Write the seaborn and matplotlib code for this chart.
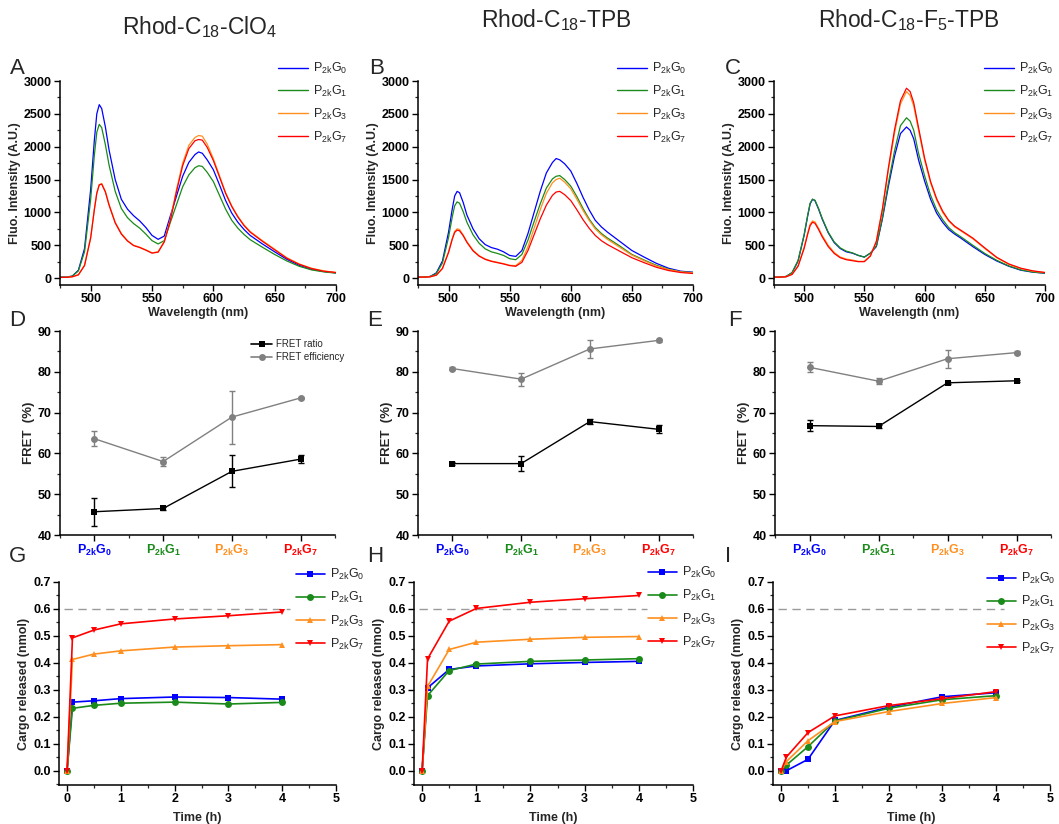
import matplotlib
matplotlib.use('Agg')
import numpy as np
import pandas as pd
import seaborn as sns
import matplotlib.pyplot as plt
from matplotlib.ticker import MultipleLocator
from matplotlib.lines import Line2D
from matplotlib import font_manager

# ---------------- data ----------------
samples = ['P$_{\\mathrm{2k}}$G$_{0}$', 'P$_{\\mathrm{2k}}$G$_{1}$',
           'P$_{\\mathrm{2k}}$G$_{3}$', 'P$_{\\mathrm{2k}}$G$_{7}$']
bold_samples = ['$\\mathbf{P_{2k}G_{0}}$', '$\\mathbf{P_{2k}G_{1}}$',
                '$\\mathbf{P_{2k}G_{3}}$', '$\\mathbf{P_{2k}G_{7}}$']
colors = ['#0000ff', '#1a8a1a', '#ff9020', '#ff0000']
titles = ['Rhod-C$_{18}$-ClO$_{4}$', 'Rhod-C$_{18}$-TPB', 'Rhod-C$_{18}$-F$_{5}$-TPB']

wavelength = [475, 480, 485, 490, 495, 500, 503, 505, 507, 509, 512, 515, 520, 525, 530,
              535, 540, 545, 550, 555, 560, 565, 570, 575, 580, 585, 588, 591, 595, 600,
              605, 610, 615, 620, 625, 630, 640, 650, 660, 670, 680, 690, 700]

A_G0 = [15, 15, 30, 120, 450, 1350, 2100, 2500, 2640, 2580, 2300, 1950, 1500, 1200, 1050,
        950, 870, 770, 650, 590, 640, 950, 1250, 1550, 1760, 1880, 1920, 1900, 1800, 1650,
        1420, 1180, 990, 850, 740, 650, 520, 400, 285, 195, 135, 100, 80]
A_G1 = [15, 15, 30, 110, 400, 1200, 1870, 2220, 2340, 2290, 2030, 1720, 1320, 1060, 920,
        830, 760, 670, 570, 520, 570, 850, 1120, 1390, 1570, 1680, 1710, 1700, 1610, 1470,
        1260, 1050, 880, 760, 665, 585, 470, 360, 260, 180, 125, 95, 75]
A_G3 = [10, 12, 20, 50, 200, 620, 1050, 1300, 1420, 1440, 1320, 1120, 850, 680, 570,
        500, 470, 430, 385, 400, 560, 900, 1350, 1750, 2020, 2140, 2170, 2160, 2040, 1820,
        1560, 1300, 1100, 940, 810, 710, 570, 440, 310, 215, 150, 110, 85]
A_G7 = [10, 12, 20, 50, 190, 610, 1040, 1290, 1420, 1430, 1310, 1110, 840, 670, 565,
        495, 465, 425, 380, 395, 550, 880, 1320, 1710, 1970, 2090, 2110, 2100, 1990, 1790,
        1540, 1290, 1090, 930, 800, 700, 560, 430, 300, 210, 145, 105, 85]

B_G0 = [15, 15, 25, 80, 260, 700, 1050, 1250, 1320, 1300, 1150, 960, 750, 600, 510,
        465, 440, 400, 345, 330, 420, 680, 1000, 1320, 1600, 1760, 1820, 1800, 1740, 1630,
        1440, 1230, 1040, 880, 780, 700, 560, 420, 320, 225, 150, 105, 90]
B_G1 = [15, 15, 25, 70, 230, 620, 930, 1100, 1160, 1140, 1010, 850, 660, 530, 445,
        400, 375, 345, 295, 280, 360, 580, 860, 1130, 1370, 1510, 1550, 1560, 1500, 1400,
        1240, 1060, 900, 770, 680, 610, 490, 360, 275, 195, 135, 95, 85]
B_G3 = [15, 15, 20, 45, 150, 400, 600, 710, 750, 740, 655, 555, 425, 340, 290,
        260, 240, 220, 195, 190, 270, 480, 760, 1040, 1290, 1450, 1500, 1520, 1460, 1360,
        1200, 1030, 880, 750, 660, 590, 470, 350, 265, 185, 130, 95, 80]
B_G7 = [15, 15, 20, 45, 145, 390, 590, 695, 730, 720, 645, 545, 415, 335, 285,
        255, 235, 215, 190, 180, 240, 420, 660, 900, 1110, 1260, 1310, 1320, 1270, 1180,
        1040, 890, 760, 650, 570, 510, 410, 310, 235, 165, 115, 85, 70]

C_G0 = [15, 15, 25, 80, 260, 650, 950, 1130, 1200, 1180, 1050, 900, 690, 540, 450,
        400, 380, 345, 320, 380, 480, 900, 1400, 1850, 2200, 2300, 2250, 2120, 1800, 1480,
        1200, 990, 850, 740, 670, 610, 480, 360, 260, 180, 120, 90, 75]
C_G1 = [15, 15, 25, 85, 270, 660, 960, 1140, 1200, 1185, 1060, 910, 700, 550, 460,
        410, 385, 345, 320, 380, 490, 920, 1450, 1930, 2320, 2440, 2390, 2250, 1900, 1560,
        1260, 1040, 890, 770, 690, 630, 500, 375, 270, 185, 125, 92, 75]
C_G3 = [15, 15, 20, 60, 190, 470, 690, 820, 870, 855, 760, 650, 500, 390, 320,
        290, 275, 255, 255, 340, 560, 1050, 1650, 2200, 2650, 2840, 2780, 2620, 2250, 1800,
        1450, 1190, 1000, 870, 780, 720, 600, 450, 310, 210, 145, 105, 85]
C_G7 = [15, 15, 20, 55, 180, 450, 670, 800, 850, 835, 740, 630, 480, 375, 310,
        280, 265, 250, 250, 335, 560, 1050, 1680, 2250, 2700, 2890, 2840, 2670, 2290, 1830,
        1470, 1210, 1020, 880, 790, 730, 610, 460, 315, 215, 150, 110, 85]

# FRET (%)
fret_ratio = {'D': [45.7, 46.5, 55.6, 58.6], 'E': [57.5, 57.5, 67.8, 65.9], 'F': [66.8, 66.6, 77.3, 77.8]}
fret_ratio_err = {'D': [3.4, 0.3, 3.9, 1.0], 'E': [0.4, 1.9, 0.6, 1.0], 'F': [1.3, 0.3, 0.3, 0.3]}
fret_eff = {'D': [63.6, 58.0, 68.9, 73.6], 'E': [80.8, 78.2, 85.6, 87.7], 'F': [81.1, 77.7, 83.2, 84.7]}
fret_eff_err = {'D': [1.8, 1.2, 6.5, 0.3], 'E': [0.3, 1.6, 2.2, 0.3], 'F': [1.2, 0.8, 2.2, 0.3]}

# Release (nmol)
time_h = [0, 0.1, 0.5, 1, 2, 3, 4]
G_rel = [[0, 0.255, 0.260, 0.268, 0.274, 0.272, 0.266],
         [0, 0.232, 0.243, 0.251, 0.255, 0.248, 0.254],
         [0, 0.413, 0.433, 0.445, 0.459, 0.464, 0.468],
         [0, 0.493, 0.522, 0.545, 0.563, 0.575, 0.589]]
H_rel = [[0, 0.308, 0.376, 0.389, 0.397, 0.402, 0.406],
         [0, 0.279, 0.372, 0.396, 0.406, 0.411, 0.416],
         [0, 0.313, 0.450, 0.477, 0.488, 0.495, 0.498],
         [0, 0.415, 0.555, 0.602, 0.625, 0.638, 0.650]]
I_rel = [[0, 0.001, 0.043, 0.187, 0.236, 0.275, 0.290],
         [0, 0.022, 0.090, 0.185, 0.232, 0.264, 0.279],
         [0, 0.035, 0.112, 0.183, 0.220, 0.250, 0.272],
         [0, 0.052, 0.142, 0.204, 0.242, 0.268, 0.294]]
release_limit = 0.6

# ---------------- style ----------------
sns.set_theme(style='ticks')
plt.rcParams['font.family'] = ['Liberation Sans', 'DejaVu Sans']
plt.rcParams['mathtext.fontset'] = 'custom'
plt.rcParams['mathtext.rm'] = 'Liberation Sans'
plt.rcParams['mathtext.it'] = 'Liberation Sans:italic'
plt.rcParams['mathtext.bf'] = 'Liberation Sans:bold'
names = {f.name for f in font_manager.fontManager.ttflist}
title_font = 'Liberation Sans Narrow' if 'Liberation Sans Narrow' in names else 'Liberation Sans'
title_size = 19 if title_font == 'Liberation Sans Narrow' else 16.5

W, H = 1059, 824
fig = plt.figure(figsize=(W / 100, H / 100), dpi=100)


def px_axes(l, t, r, b):
    return fig.add_axes([l / W, (H - b) / H, (r - l) / W, (b - t) / H])


def style_axes(ax):
    for s in ['top', 'right']:
        ax.spines[s].set_visible(False)
    for s in ['left', 'bottom']:
        ax.spines[s].set_linewidth(1.1)
        ax.spines[s].set_color('black')
    ax.tick_params(which='major', direction='out', length=4, width=1.0, pad=2,
                   labelsize=9, colors='black')
    ax.tick_params(which='minor', direction='out', length=2.5, width=0.9)
    for lab in ax.get_xticklabels() + ax.get_yticklabels():
        lab.set_fontweight('bold')


def fig_text(x, y, s, **kw):
    fig.text(x / W, 1 - y / H, s, **kw)


# ---------------- spectra row ----------------
spec_sets = [[A_G0, A_G1, A_G3, A_G7], [B_G0, B_G1, B_G3, B_G7], [C_G0, C_G1, C_G3, C_G7]]
spec_boxes = [(60, 81, 336, 285), (418, 81, 693, 285), (774, 81, 1045, 285)]
spec_leg = [(278, 61), (617, 61), (984, 61)]
for k, (series, box, lg) in enumerate(zip(spec_sets, spec_boxes, spec_leg)):
    ax = px_axes(*box)
    frames = [pd.DataFrame({'wl': wavelength, 'I': v, 'sample': s}) for s, v in zip(samples, series)]
    df = pd.concat(frames, ignore_index=True)
    sns.lineplot(data=df, x='wl', y='I', hue='sample', hue_order=samples, palette=colors,
                 estimator=None, legend=False, linewidth=0.9, ax=ax)
    ax.set_xlim(475, 700)
    ax.set_ylim(-105, 3000)
    ax.xaxis.set_major_locator(MultipleLocator(50))
    ax.xaxis.set_minor_locator(MultipleLocator(25))
    ax.yaxis.set_major_locator(MultipleLocator(500))
    ax.yaxis.set_minor_locator(MultipleLocator(250))
    ax.set_xlabel('Wavelength (nm)', fontsize=9, fontweight='bold', labelpad=1)
    ax.set_ylabel('Fluo. Intensity (A.U.)', fontsize=9, fontweight='bold', labelpad=2)
    style_axes(ax)
    handles = [Line2D([], [], color=c, lw=1.0) for c in colors]
    ax.legend(handles, samples, loc='upper left', bbox_to_anchor=(lg[0] / W, 1 - lg[1] / H),
              bbox_transform=fig.transFigure, frameon=False, fontsize=9, borderpad=0,
              borderaxespad=0, handlelength=2.4, handletextpad=0.4, labelspacing=0.62)

# ---------------- FRET row ----------------
fret_keys = ['D', 'E', 'F']
fret_boxes = [(60, 331, 335, 535), (418, 331, 693, 535), (775, 331, 1051, 535)]
positions = [1, 2, 3, 4]
for k, (key, box) in enumerate(zip(fret_keys, fret_boxes)):
    ax = px_axes(*box)
    ax.errorbar(positions, fret_eff[key], yerr=fret_eff_err[key], fmt='none',
                ecolor='#808080', elinewidth=1.0, capsize=2.5, capthick=1.0)
    ax.errorbar(positions, fret_ratio[key], yerr=fret_ratio_err[key], fmt='none',
                ecolor='black', elinewidth=1.0, capsize=2.5, capthick=1.0)
    sns.lineplot(x=positions, y=fret_eff[key], color='#808080', marker='o', markersize=5,
                 markeredgewidth=0, linewidth=1.0, ax=ax)
    sns.lineplot(x=positions, y=fret_ratio[key], color='black', marker='s', markersize=5,
                 markeredgewidth=0, linewidth=1.0, ax=ax)
    ax.set_xlim(0.5, 4.5)
    ax.set_ylim(40, 90)
    ax.set_xticks(positions)
    ax.xaxis.set_minor_locator(MultipleLocator(0.5))
    ax.yaxis.set_major_locator(MultipleLocator(10))
    ax.yaxis.set_minor_locator(MultipleLocator(5))
    ax.set_xticklabels(bold_samples)
    ax.set_ylabel('FRET  (%)', fontsize=9.5, fontweight='bold', labelpad=2)
    ax.set_xlabel('')
    style_axes(ax)
    for lab, c in zip(ax.get_xticklabels(), colors):
        lab.set_color(c)
        lab.set_fontsize(9)
    if key == 'D':
        handles = [Line2D([], [], color='black', marker='s', markersize=5, markeredgewidth=0, lw=1.2),
                   Line2D([], [], color='#808080', marker='o', markersize=5, markeredgewidth=0, lw=1.2)]
        ax.legend(handles, ['FRET ratio', 'FRET efficiency'], loc='upper left',
                  bbox_to_anchor=(251 / W, 1 - 339 / H), bbox_transform=fig.transFigure,
                  frameon=False, fontsize=7, borderpad=0, borderaxespad=0, handlelength=2.2,
                  handletextpad=0.4, labelspacing=0.35)

# ---------------- release row ----------------
rel_sets = [G_rel, H_rel, I_rel]
rel_boxes = [(59, 582, 336, 785), (414, 582, 693, 785), (773, 582, 1050, 785)]
rel_leg = [(296, 567), (648, 565), (987, 571)]
markers = ['s', 'o', '^', 'v']
for k, (series, box, lg) in enumerate(zip(rel_sets, rel_boxes, rel_leg)):
    ax = px_axes(*box)
    ax.plot([-0.05, 4.15], [release_limit, release_limit], color='#9a9a9a', lw=1.0,
            dashes=(6, 4), zorder=1)
    frames = [pd.DataFrame({'t': time_h, 'c': v, 'sample': s}) for s, v in zip(samples, series)]
    df = pd.concat(frames, ignore_index=True)
    sns.lineplot(data=df, x='t', y='c', hue='sample', style='sample', hue_order=samples,
                 style_order=samples, palette=colors, markers=markers, dashes=False,
                 markersize=5, markeredgewidth=0, linewidth=1.2, legend=False, ax=ax, zorder=3)
    ax.set_xlim(-0.15, 5)
    ax.set_ylim(-0.052, 0.7)
    ax.xaxis.set_major_locator(MultipleLocator(1))
    ax.xaxis.set_minor_locator(MultipleLocator(0.5))
    ax.yaxis.set_major_locator(MultipleLocator(0.1))
    ax.yaxis.set_minor_locator(MultipleLocator(0.05))
    ax.yaxis.set_major_formatter(matplotlib.ticker.FormatStrFormatter('%.1f'))
    ax.set_xlabel('Time (h)', fontsize=9, fontweight='bold', labelpad=5)
    ax.set_ylabel('Cargo released (nmol)', fontsize=9, fontweight='bold', labelpad=2)
    style_axes(ax)
    handles = [Line2D([], [], color=c, marker=m, markersize=5, markeredgewidth=0, lw=1.2)
               for c, m in zip(colors, markers)]
    ax.legend(handles, samples, loc='upper left', bbox_to_anchor=(lg[0] / W, 1 - lg[1] / H),
              bbox_transform=fig.transFigure, frameon=False, fontsize=9, borderpad=0,
              borderaxespad=0, handlelength=2.3, handletextpad=0.4, labelspacing=0.65)

# ---------------- titles & panel letters ----------------
title_pos = [(200, 27), (556, 20), (909, 20)]
for t, (x, y) in zip(titles, title_pos):
    fig_text(x, y, t, ha='center', va='center', fontsize=title_size, family=title_font)

letters = [('A', 17, 68), ('B', 377, 68), ('C', 733, 68),
           ('D', 17, 320), ('E', 375, 320), ('F', 735, 321),
           ('G', 18, 557), ('H', 375, 557), ('I', 728, 557)]
for s, x, y in letters:
    fig_text(x, y, s, ha='center', va='center', fontsize=16)

fig.savefig('out.png', dpi=100)
